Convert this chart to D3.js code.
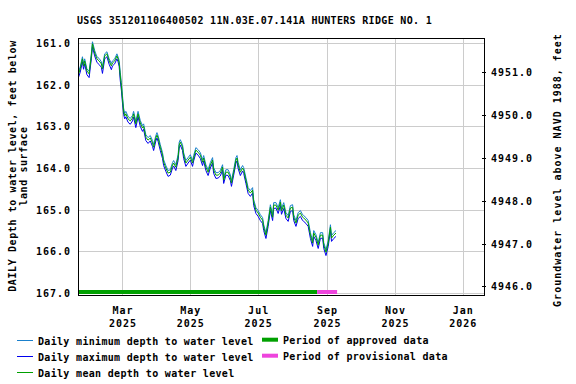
<!DOCTYPE html>
<html><head><meta charset="utf-8">
<script src="https://cdn.jsdelivr.net/npm/d3@7"></script>
<style>
html,body{margin:0;padding:0;background:#fff;}
svg{display:block;}
text{font-family:"DejaVu Sans Mono",monospace;font-weight:bold;font-size:10px;fill:#000;}
</style></head><body>
<svg id="chart" width="576" height="384"></svg>
<script>
const dates = ["2025-01-20","2025-01-22","2025-01-24","2025-01-25","2025-01-26","2025-01-28","2025-01-30","2025-02-01","2025-02-02","2025-02-04",
"2025-02-06","2025-02-08","2025-02-10","2025-02-11","2025-02-13","2025-02-15","2025-02-17","2025-02-19","2025-02-20","2025-02-22",
"2025-02-24","2025-02-25","2025-02-26","2025-02-27","2025-02-28","2025-03-01","2025-03-02","2025-03-03","2025-03-04","2025-03-06",
"2025-03-08","2025-03-10","2025-03-11","2025-03-13","2025-03-15","2025-03-17","2025-03-19","2025-03-20","2025-03-22","2025-03-24",
"2025-03-26","2025-03-28","2025-03-29","2025-03-31","2025-04-01","2025-04-02","2025-04-04","2025-04-06","2025-04-07","2025-04-09",
"2025-04-11","2025-04-13","2025-04-15","2025-04-16","2025-04-18","2025-04-20","2025-04-21","2025-04-22","2025-04-24","2025-04-25",
"2025-04-27","2025-04-29","2025-05-01","2025-05-03","2025-05-04","2025-05-06","2025-05-08","2025-05-10","2025-05-12","2025-05-13",
"2025-05-15","2025-05-17","2025-05-19","2025-05-21","2025-05-22","2025-05-24","2025-05-26","2025-05-28","2025-05-30","2025-05-31",
"2025-06-02","2025-06-04","2025-06-06","2025-06-07","2025-06-09","2025-06-11","2025-06-12","2025-06-13","2025-06-15","2025-06-17",
"2025-06-18","2025-06-20","2025-06-22","2025-06-24","2025-06-26","2025-06-27","2025-06-29","2025-07-01","2025-07-03","2025-07-05",
"2025-07-06","2025-07-08","2025-07-10","2025-07-12","2025-07-14","2025-07-15","2025-07-17","2025-07-19","2025-07-21","2025-07-22",
"2025-07-24","2025-07-26","2025-07-28","2025-07-30","2025-08-01","2025-08-02","2025-08-04","2025-08-06","2025-08-08","2025-08-10",
"2025-08-11","2025-08-13","2025-08-15","2025-08-17","2025-08-19","2025-08-20","2025-08-22","2025-08-24","2025-08-26","2025-08-28",
"2025-08-29","2025-08-31","2025-09-02","2025-09-04","2025-09-05","2025-09-07","2025-09-09"];

const dailyMean = [161.79,161.62,161.38,161.55,161.43,161.67,161.74,161.31,161.02,161.24,
161.38,161.43,161.50,161.62,161.31,161.26,161.43,161.55,161.48,161.43,
161.31,161.38,161.48,161.79,162.03,162.34,162.63,162.75,162.70,162.82,
162.87,162.80,162.70,162.94,162.70,162.92,163.04,163.00,163.26,163.33,
163.28,163.40,163.50,163.28,163.21,163.28,163.50,163.69,163.86,164.00,
164.12,164.10,163.93,163.88,163.98,163.74,163.45,163.38,163.50,163.69,
163.88,163.81,163.74,163.88,163.76,163.57,163.62,163.69,163.86,163.76,
163.98,164.10,163.93,163.81,164.05,164.17,164.17,164.12,163.98,164.29,
164.10,164.10,164.22,164.36,164.10,163.81,163.76,163.93,164.10,164.00,
164.05,164.29,164.53,164.60,164.53,164.82,165.01,165.08,165.18,165.25,
165.42,165.61,165.32,164.94,165.18,164.89,164.89,165.01,164.82,165.03,
164.89,165.13,165.20,164.96,164.94,165.18,165.32,165.13,165.08,165.18,
165.20,165.25,165.32,165.61,165.80,165.56,165.66,165.85,165.61,165.61,
165.85,166.02,165.80,165.42,165.68,165.61,165.56];

const dailyMin = [161.74,161.57,161.33,161.49,161.38,161.62,161.68,161.25,160.97,161.18,
161.33,161.37,161.45,161.56,161.26,161.21,161.38,161.49,161.43,161.38,
161.26,161.33,161.42,161.70,161.95,162.26,162.56,162.69,162.64,162.76,
162.81,162.74,162.64,162.88,162.64,162.86,162.98,162.94,163.20,163.27,
163.22,163.34,163.44,163.22,163.15,163.22,163.44,163.63,163.80,163.94,
164.06,164.04,163.87,163.82,163.92,163.68,163.38,163.32,163.44,163.63,
163.82,163.75,163.68,163.82,163.70,163.51,163.56,163.63,163.80,163.70,
163.92,164.04,163.87,163.75,163.99,164.11,164.11,164.06,163.92,164.23,
164.04,164.04,164.16,164.30,164.04,163.75,163.70,163.87,164.04,163.94,
163.99,164.23,164.47,164.54,164.47,164.76,164.95,165.02,165.12,165.19,
165.36,165.55,165.26,164.88,165.12,164.83,164.83,164.95,164.76,164.97,
164.83,165.07,165.14,164.90,164.88,165.12,165.26,165.07,165.02,165.12,
165.14,165.19,165.26,165.55,165.74,165.50,165.60,165.79,165.55,165.55,
165.79,165.96,165.74,165.36,165.62,165.55,165.50];

const dailyMax = [161.86,161.70,161.45,161.63,161.50,161.76,161.83,161.38,161.09,161.31,
161.46,161.52,161.58,161.73,161.38,161.33,161.51,161.64,161.55,161.50,
161.38,161.45,161.56,161.90,162.13,162.44,162.71,162.82,162.77,162.90,
162.95,162.87,162.78,163.03,162.77,163.00,163.12,163.07,163.34,163.41,
163.35,163.48,163.58,163.35,163.28,163.36,163.58,163.77,163.94,164.08,
164.20,164.17,164.00,163.95,164.06,163.82,163.52,163.45,163.58,163.77,
163.96,163.88,163.81,163.96,163.83,163.64,163.69,163.77,163.94,163.83,
164.06,164.18,164.00,163.88,164.13,164.25,164.24,164.19,164.05,164.37,
164.17,164.18,164.30,164.44,164.17,163.88,163.83,164.01,164.18,164.07,
164.13,164.37,164.61,164.68,164.60,164.90,165.09,165.16,165.26,165.33,
165.50,165.69,165.40,165.02,165.26,164.97,164.96,165.09,164.90,165.11,
164.97,165.21,165.28,165.04,165.02,165.26,165.40,165.21,165.16,165.26,
165.28,165.33,165.40,165.69,165.88,165.64,165.74,165.93,165.69,165.68,
165.93,166.10,165.88,165.50,165.76,165.69,165.64];

const depthTicks = [161, 162, 163, 164, 165, 166, 167];
const elevationTicks = [4946, 4947, 4948, 4949, 4950, 4951];
const monthTicks = ["2025-03-01","2025-05-01","2025-07-01","2025-09-01","2025-11-01","2026-01-01"];
const xDomain = ["2025-01-20","2026-01-21"];
const depthDomain = [160.88, 167.07];
const elevationDomain = [4951.806, 4945.778];
const approvedPeriod = ["2025-01-20","2025-08-23"];
const provisionalPeriod = ["2025-08-23","2025-09-10"];
const titleText = "USGS 351201106400502 11N.03E.07.141A HUNTERS RIDGE NO. 1";
const leftLabel = ["DAILY Depth to water level, feet below", "land surface"];
const rightLabel = "Groundwater level above NAVD 1988, feet";
const legendLines = [
  {label: "Daily minimum depth to water level", color: "#1a80cc"},
  {label: "Daily maximum depth to water level", color: "#0000ee"},
  {label: "Daily mean depth to water level", color: "#00a000"}
];
const legendPeriods = [
  {label: "Period of approved data", color: "#00a000"},
  {label: "Period of provisional data", color: "#ee44dd"}
];

const parse = d3.utcParse("%Y-%m-%d");
const L = 78, R = 485, T = 38, B = 296;
const svg = d3.select("#chart");

const x = d3.scaleUtc().domain(xDomain.map(parse)).range([L, R]);
const y = d3.scaleLinear().domain(depthDomain).range([T, B]);
const yR = d3.scaleLinear().domain(elevationDomain).range([T, B]);

// title
svg.append("text").attr("x", 254.5).attr("y", 24).attr("text-anchor", "middle")
  .style("letter-spacing", "0.32px").text(titleText);

// grid
const grid = svg.append("g").attr("stroke", "#cccccc").attr("stroke-width", 1).attr("shape-rendering", "crispEdges");
grid.selectAll("line.h").data(depthTicks).join("line").attr("class","h")
  .attr("x1", L).attr("x2", R).attr("y1", d => Math.round(y(d)) + 0.5).attr("y2", d => Math.round(y(d)) + 0.5);
grid.selectAll("line.v").data(monthTicks.map(parse)).join("line").attr("class","v")
  .attr("y1", T).attr("y2", B).attr("x1", d => Math.round(x(d)) + 0.5).attr("x2", d => Math.round(x(d)) + 0.5);

// clip
svg.append("clipPath").attr("id", "clip").append("rect").attr("x", L).attr("y", T).attr("width", R - L).attr("height", B - T);

const series = dates.map((d, i) => ({date: parse(d), min: dailyMin[i], max: dailyMax[i], mean: dailyMean[i]}));
const plot = svg.append("g").attr("clip-path", "url(#clip)");
const mk = key => d3.line().x(d => x(d.date)).y(d => y(d[key]));
plot.append("path").datum(series).attr("d", mk("max")).attr("fill","none").attr("stroke", legendLines[1].color).attr("stroke-width", 1);
plot.append("path").datum(series).attr("d", mk("min")).attr("fill","none").attr("stroke", legendLines[0].color).attr("stroke-width", 1);
plot.append("path").datum(series).attr("d", mk("mean")).attr("fill","none").attr("stroke", legendLines[2].color).attr("stroke-width", 1);

// period bars
const periods = [{p: approvedPeriod, c: legendPeriods[0].color}, {p: provisionalPeriod, c: legendPeriods[1].color}];
plot.selectAll("rect.per").data(periods).join("rect").attr("class","per")
  .attr("x", d => x(parse(d.p[0]))).attr("width", d => x(parse(d.p[1])) - x(parse(d.p[0])))
  .attr("y", 290).attr("height", 4).attr("fill", d => d.c);

// frame
svg.append("rect").attr("x", L + 0.5).attr("y", T + 0.5).attr("width", R - L - 1).attr("height", B - T - 1)
  .attr("fill", "none").attr("stroke", "#000").attr("stroke-width", 1).attr("shape-rendering", "crispEdges");

// left tick labels
svg.selectAll("text.yl").data(depthTicks).join("text").attr("class","yl")
  .attr("x", 71).attr("y", d => y(d) + 4).attr("text-anchor", "end").style("letter-spacing", "1px")
  .text(d => d3.format(".1f")(d));

// right ticks & labels
svg.selectAll("line.rt").data(elevationTicks).join("line").attr("class","rt")
  .attr("x1", R - 3).attr("x2", R + 1).attr("y1", d => Math.round(yR(d)) + 0.5).attr("y2", d => Math.round(yR(d)) + 0.5)
  .attr("stroke", "#000").attr("shape-rendering", "crispEdges");
svg.selectAll("text.yr").data(elevationTicks).join("text").attr("class","yr")
  .attr("x", 491).attr("y", d => yR(d) + 4).attr("text-anchor", "start").style("letter-spacing", "1px")
  .text(d => d3.format(".1f")(d));

// x labels
const fm = d3.utcFormat("%b"), fy = d3.utcFormat("%Y");
const xl = svg.selectAll("g.xl").data(monthTicks.map(parse)).join("g").attr("class","xl")
  .attr("transform", d => `translate(${x(d) + 0.5},0)`);
xl.append("text").attr("y", 314).attr("text-anchor","middle").style("letter-spacing","1px").text(d => fm(d));
xl.append("text").attr("y", 327).attr("text-anchor","middle").style("letter-spacing","1px").text(d => fy(d));

// axis titles
const cy = (T + B) / 2;
svg.append("text").attr("transform", `translate(16,${cy - 1}) rotate(-90)`).attr("text-anchor","middle")
  .style("letter-spacing","0.6px").text(leftLabel[0]);
svg.append("text").attr("transform", `translate(27,${cy - 1}) rotate(-90)`).attr("text-anchor","middle")
  .style("letter-spacing","0.6px").text(leftLabel[1]);
svg.append("text").attr("transform", `translate(561,${cy + 3}) rotate(-90)`).attr("text-anchor","middle")
  .style("letter-spacing","1px").text(rightLabel);

// legend
const lg = svg.append("g");
legendLines.forEach((d, i) => {
  const yy = 340.5 + i * 16;
  lg.append("line").attr("x1", 17).attr("x2", 33).attr("y1", yy).attr("y2", yy).attr("stroke", d.color).attr("stroke-width", 1);
  lg.append("text").attr("x", 38).attr("y", yy + 4).style("letter-spacing","0.32px").text(d.label);
});
legendPeriods.forEach((d, i) => {
  const yy = 339.7 + i * 16;
  lg.append("rect").attr("x", 262).attr("y", yy - 2).attr("width", 16).attr("height", 4).attr("fill", d.color);
  lg.append("text").attr("x", 283).attr("y", yy + 4.5).style("letter-spacing","0.32px").text(d.label);
});
</script>
</body></html>
